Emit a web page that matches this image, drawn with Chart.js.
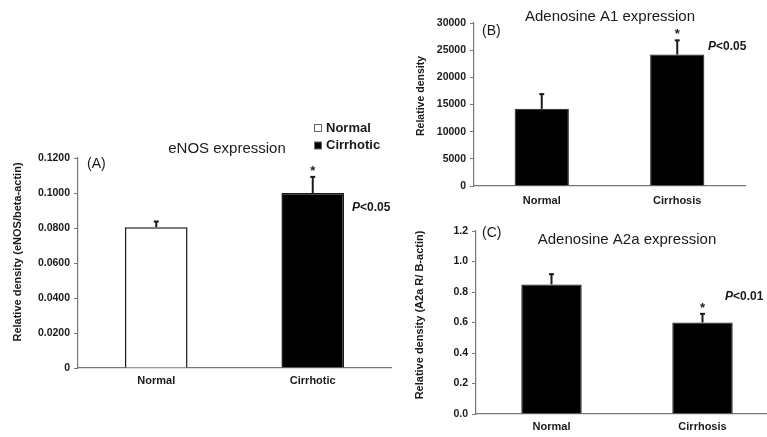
<!DOCTYPE html>
<html lang="en">
<head>
    <meta charset="UTF-8">
    <title>eNOS and adenosine receptor expression</title>
    <script src="https://cdn.jsdelivr.net/npm/chart.js"></script>
    <style>
        html, body { margin: 0; padding: 0; background: #fff; overflow: hidden; }
        body { width: 767px; height: 437px; position: relative; }
        .panel { position: absolute; }
    </style>
</head>
<body>
    <div class="panel" style="left:0px; top:0px; width:400px; height:437px;"><canvas id="chartA"></canvas></div>
    <div class="panel" style="left:400px; top:0px; width:367px; height:215px;"><canvas id="chartB"></canvas></div>
    <div class="panel" style="left:400px; top:215px; width:378px; height:222px;"><canvas id="chartC"></canvas></div>
    <script>
        // panel A - eNOS
        const groupsA = ['Normal', 'Cirrhotic'];
        const meansA = [0.0805, 0.1000];
        const errorsA = [0.0035, 0.0095];
        const ticksA = ['0', '0.0200', '0.0400', '0.0600', '0.0800', '0.1000', '0.1200'];

        // panel B - adenosine A1
        const groupsB = ['Normal', 'Cirrhosis'];
        const meansB = [14200, 24200];
        const errorsB = [2800, 2700];
        const ticksB = ['0', '5000', '10000', '15000', '20000', '25000', '30000'];

        // panel C - adenosine A2a
        const groupsC = ['Normal', 'Cirrhosis'];
        const meansC = [0.85, 0.60];
        const errorsC = [0.07, 0.06];
        const ticksC = ['0.0', '0.2', '0.4', '0.6', '0.8', '1.0', '1.2'];

        const ink = '#1a1a1a';
        const axisGrey = '#777';
        const fontName = '"Liberation Sans", Arial, sans-serif';

        // error bars (upward only) + text bits drawn around the plot
        const panelExtras = {
            id: 'panelExtras',
            afterDatasetsDraw(chart, args, opts) {
                const ctx = chart.ctx;
                const meta = chart.getDatasetMeta(0);
                const yScale = chart.scales.y;
                const ds = chart.data.datasets[0];
                ctx.save();
                meta.data.forEach(function (bar, i) {
                    const top = yScale.getPixelForValue(ds.data[i] + opts.errors[i]);
                    ctx.strokeStyle = ink;
                    ctx.lineWidth = 2;
                    ctx.beginPath();
                    ctx.moveTo(bar.x, bar.y);
                    ctx.lineTo(bar.x, top);
                    ctx.stroke();
                    ctx.beginPath();
                    ctx.moveTo(bar.x - 2.5, top + 0.5);
                    ctx.lineTo(bar.x + 2.5, top + 0.5);
                    ctx.stroke();
                    if (i === opts.starIndex) {
                        ctx.fillStyle = ink;
                        ctx.font = 'bold 13px ' + fontName;
                        ctx.textAlign = 'center';
                        ctx.textBaseline = 'alphabetic';
                        ctx.fillText('*', bar.x, top - 1.5);
                    }
                });

                ctx.fillStyle = ink;
                ctx.textBaseline = 'middle';

                // title
                ctx.font = '15px ' + fontName;
                ctx.textAlign = 'center';
                ctx.fillText(opts.title, opts.titleAt[0], opts.titleAt[1]);

                // y axis title, rotated
                ctx.save();
                ctx.translate(opts.yTitleAt[0], opts.yTitleAt[1]);
                ctx.rotate(-Math.PI / 2);
                ctx.font = 'bold ' + opts.yTitleSize + 'px ' + fontName;
                ctx.fillText(opts.yTitle, 0, 0);
                ctx.restore();

                // panel letter
                ctx.font = '14px ' + fontName;
                ctx.textAlign = 'left';
                ctx.fillText(opts.letter, opts.letterAt[0], opts.letterAt[1]);

                // P value
                ctx.font = 'italic bold 12px ' + fontName;
                ctx.fillText('P', opts.pAt[0], opts.pAt[1]);
                const pw = ctx.measureText('P').width;
                ctx.font = 'bold 12px ' + fontName;
                ctx.fillText(opts.pText, opts.pAt[0] + pw, opts.pAt[1]);

                // little legend (panel A only)
                if (opts.legendAt) {
                    const colors = ds.backgroundColor;
                    chart.data.labels.forEach(function (lab, i) {
                        const lx = opts.legendAt[0];
                        const ly = opts.legendAt[1] + i * 17.5;
                        ctx.fillStyle = colors[i];
                        ctx.fillRect(lx, ly - 3.5, 7, 7);
                        ctx.strokeStyle = '#666';
                        ctx.lineWidth = 1;
                        ctx.strokeRect(lx + 0.5, ly - 3.5, 7, 7);
                        ctx.fillStyle = ink;
                        ctx.font = 'bold 13px ' + fontName;
                        ctx.textAlign = 'left';
                        ctx.fillText(lab, lx + 12, ly);
                    });
                }
                ctx.restore();
            }
        };

        function makeChart(id, labels, means, tickLabels, yMax, yStep, fills, borderW, padding, yWidth, xHeight, xPad, extras) {
            return new Chart(document.getElementById(id), {
                type: 'bar',
                data: {
                    labels: labels,
                    datasets: [{
                        data: means,
                        backgroundColor: fills,
                        borderColor: ink,
                        borderWidth: borderW,
                        barPercentage: 0.4,
                        categoryPercentage: 1.0
                    }]
                },
                options: {
                    responsive: true,
                    maintainAspectRatio: false,
                    animation: false,
                    devicePixelRatio: 1,
                    layout: { padding: padding },
                    plugins: {
                        legend: { display: false },
                        tooltip: { enabled: false },
                        panelExtras: extras
                    },
                    scales: {
                        x: {
                            grid: { display: false, drawTicks: false },
                            border: { display: true, color: axisGrey, width: 1.2 },
                            ticks: { color: ink, padding: xPad, font: { family: fontName, size: 11, weight: 'bold' } },
                            afterFit: function (s) { s.height = xHeight; }
                        },
                        y: {
                            min: 0,
                            max: yMax,
                            grid: { drawOnChartArea: false, drawTicks: true, tickLength: 4, color: axisGrey },
                            border: { display: true, color: axisGrey, width: 1.2 },
                            ticks: {
                                stepSize: yStep,
                                padding: 4,
                                color: ink,
                                font: { family: fontName, size: 10.5, weight: 'bold' },
                                callback: function (v, i) { return tickLabels[i]; }
                            },
                            afterFit: function (s) { s.width = yWidth; }
                        }
                    }
                },
                plugins: [panelExtras]
            });
        }

        makeChart('chartA', groupsA, meansA, ticksA, 0.12, 0.02, ['#ffffff', '#000000'], 1.5,
            { top: 158, right: 9, bottom: 45, left: 0 }, 78, 24, 6,
            { errors: errorsA, starIndex: 1, title: 'eNOS expression', titleAt: [227, 149],
              yTitle: 'Relative density (eNOS/beta-actin)', yTitleAt: [18, 252], yTitleSize: 11,
              letter: '(A)', letterAt: [87, 164], pText: '<0.05', pAt: [352, 208], legendAt: [314, 128] });

        makeChart('chartB', groupsB, meansB, ticksB, 30000, 5000, ['#000000', '#000000'], 1,
            { top: 23, right: 22, bottom: 5, left: 0 }, 74, 24, 8,
            { errors: errorsB, starIndex: 1, title: 'Adenosine A1 expression', titleAt: [210, 17],
              yTitle: 'Relative density', yTitleAt: [21, 96], yTitleSize: 10.5,
              letter: '(B)', letterAt: [82, 31], pText: '<0.05', pAt: [308, 47] });

        makeChart('chartC', groupsC, meansC, ticksC, 1.2, 0.2, ['#000000', '#000000'], 1,
            { top: 16, right: 0, bottom: 1, left: 0 }, 76, 22, 6,
            { errors: errorsC, starIndex: 1, title: 'Adenosine A2a expression', titleAt: [227, 25],
              yTitle: 'Relative density (A2a R/ B-actin)', yTitleAt: [20, 100], yTitleSize: 11,
              letter: '(C)', letterAt: [82, 18], pText: '<0.01', pAt: [325, 82] });
    </script>
</body>
</html>
